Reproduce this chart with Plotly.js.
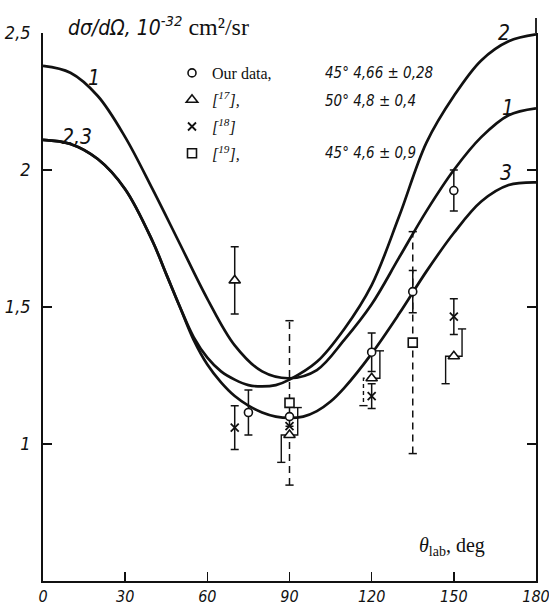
<!DOCTYPE html>
<html><head><meta charset="utf-8">
<script src="https://cdn.plot.ly/plotly-3.0.1.min.js"></script>
<style>html,body{margin:0;padding:0;background:#fff}</style>
</head><body><div id="chart" style="width:549px;height:605px"></div>
<script>
// ---------------- DATA ----------------
const curve1X = [0,10,20,30,40,50,60,70,80,90,100,110,120,130,140,150,160,170,180];
const curve1Y = [2.38,2.355,2.27,2.12,1.93,1.73,1.53,1.36,1.265,1.24,1.27,1.38,1.51,1.68,1.85,2.00,2.12,2.20,2.225];

const curve2X = [0,10,20,30,40,45,50,55,60,65,70,75,80,85,90,100,110,120,130,140,150,160,170,180];
const curve2Y = [2.11,2.095,2.04,1.93,1.74,1.62,1.50,1.39,1.315,1.265,1.235,1.215,1.21,1.215,1.235,1.30,1.42,1.58,1.83,2.10,2.27,2.40,2.47,2.495];

const curve3X = [0,10,20,30,40,45,50,55,60,65,70,75,80,85,90,95,100,105,110,120,130,140,150,160,170,180];
const curve3Y = [2.11,2.095,2.04,1.93,1.74,1.62,1.50,1.38,1.29,1.225,1.175,1.14,1.115,1.10,1.095,1.10,1.12,1.155,1.205,1.33,1.475,1.63,1.77,1.885,1.945,1.955];

const ourX   = [75, 90, 120, 135, 150];
const ourY   = [1.115, 1.10, 1.335, 1.556, 1.925];
const ourErr = [0.082, null, 0.07, 0.077, 0.075];

const ref17X   = [70, 90, 120, 150];
const ref17Y   = [1.597, 1.033, 1.24, 1.32];
const ref17Err = [0.123, 0.10, 0.10, 0.10];

const ref18X   = [70, 90, 120, 150];
const ref18Y   = [1.06, 1.065, 1.175, 1.465];
const ref18Err = [0.08, null, 0.045, 0.065];

const ref19X   = [90, 135];
const ref19Y   = [1.15, 1.37];
const ref19Err = [0.30, 0.405];

const xTickVals = [0,30,60,90,120,150,180];
const xTickText = ['0','30','60','90','120','150','180'];
const yTickVals = [1,1.5,2,2.5];
const yTickText = ['1','1,5','2','2,5'];

const legendNames = ['Our data,', '[17],', '[18]', '[19],'];
const legendNotes = ['45° 4,66 ± 0,28', '50° 4,8 ± 0,4', '', '45° 4,6 ± 0,9'];
const curveLabels = [
  {x: 18.6, y: 2.335, t: '1'}, {x: 12.5, y: 2.122, t: '2,3'},
  {x: 168.2, y: 2.5, t: '2'}, {x: 169.6, y: 2.228, t: '1'}, {x: 169.0, y: 1.99, t: '3'}
];

// ---------------- STYLE ----------------
const INK = '#111';
const SANS_IT = "'Liberation Sans Narrow', 'DejaVu Sans Condensed', 'Liberation Sans', sans-serif";
const SERIF = "'Liberation Serif', 'DejaVu Serif', serif";
const CAP = 1.5;        // cap half-width (deg)
const BR_OFF = 3;       // bracket offset (deg)
const bracketIdx = [1,2,3];
const dashedLowerIdx = [2];

function bracketPaths(xs, ys, errs, idx, dashedLower) {
  const solid = {x: [], y: []}, dashed = {x: [], y: []};
  idx.forEach(i => {
    const x = xs[i], y = ys[i], e = errs[i];
    solid.x.push(x, x + BR_OFF, x + BR_OFF, null, x + BR_OFF - CAP, x + BR_OFF + CAP, null);
    solid.y.push(y, y, y + e, null, y + e, y + e, null);
    const tgt = dashedLower.includes(i) ? dashed : solid;
    tgt.x.push(x, x - BR_OFF, x - BR_OFF, null);
    tgt.y.push(y, y, y - e, null);
    solid.x.push(x - BR_OFF - CAP, x - BR_OFF + CAP, null);
    solid.y.push(y - e, y - e, null);
  });
  return {solid, dashed};
}
function dashedErr(xs, ys, errs) {
  const stem = {x: [], y: []}, caps = {x: [], y: []};
  xs.forEach((x, i) => {
    const y = ys[i], e = errs[i];
    stem.x.push(x, x, null); stem.y.push(y - e, y + e, null);
    caps.x.push(x - CAP, x + CAP, null, x - CAP, x + CAP, null);
    caps.y.push(y + e, y + e, null, y - e, y - e, null);
  });
  return {stem, caps};
}

const curveLine = {color: INK, width: 2.7, shape: 'spline', smoothing: 1};
const errStyle = (arr) => ({type: 'data', array: arr, visible: true, color: INK, thickness: 1.5, width: 4});

const br = bracketPaths(ref17X, ref17Y, ref17Err, bracketIdx, dashedLowerIdx);
const r17straight = ref17Err.map((e, i) => bracketIdx.includes(i) ? null : e);
const sq = dashedErr(ref19X, ref19Y, ref19Err);

const traces = [
  {x: curve1X, y: curve1Y, mode: 'lines', line: curveLine, showlegend: false, cliponaxis: false},
  {x: curve2X, y: curve2Y, mode: 'lines', line: curveLine, showlegend: false, cliponaxis: false},
  {x: curve3X, y: curve3Y, mode: 'lines', line: curveLine, showlegend: false, cliponaxis: false},
  {x: br.solid.x, y: br.solid.y, mode: 'lines', line: {color: INK, width: 1.4}, showlegend: false},
  {x: br.dashed.x, y: br.dashed.y, mode: 'lines', line: {color: INK, width: 1.4, dash: '4px,3px'}, showlegend: false},
  {x: sq.stem.x, y: sq.stem.y, mode: 'lines', line: {color: INK, width: 1.5, dash: '7px,5px'}, showlegend: false},
  {x: sq.caps.x, y: sq.caps.y, mode: 'lines', line: {color: INK, width: 1.5}, showlegend: false},
  {x: ourX, y: ourY, mode: 'markers', name: legendNames[0], legendgroup: 'a',
   marker: {symbol: 'circle', size: 8, color: 'white', line: {color: INK, width: 1.6}},
   error_y: errStyle(ourErr)},
  {x: ref17X, y: ref17Y, mode: 'markers', name: '<i>[<sup>17</sup>],</i>', legendgroup: 'b',
   marker: {symbol: 'triangle-up', size: 10, color: 'white', line: {color: INK, width: 1.6}},
   error_y: errStyle(r17straight)},
  {x: ref18X, y: ref18Y, mode: 'markers', name: '<i>[<sup>18</sup>]</i>', legendgroup: 'c',
   marker: {symbol: 'x-thin', size: 8, color: INK, line: {color: INK, width: 1.8}},
   error_y: errStyle(ref18Err)},
  {x: ref19X, y: ref19Y, mode: 'markers', name: '<i>[<sup>19</sup>],</i>', legendgroup: 'd',
   marker: {symbol: 'square', size: 9, color: 'white', line: {color: INK, width: 1.6}}}
];

const PW = 493, PH = 548;
const notesY = [73, 101, 127, 153].map(p => 1 - (p - 33) / PH);
const annotations = [];
legendNotes.forEach((t, i) => { if (t) annotations.push({
  xref: 'paper', yref: 'paper', x: (323 - 43) / PW, y: notesY[i], xanchor: 'left', yanchor: 'middle',
  text: t, showarrow: false, font: {family: SANS_IT, size: 15, style: 'italic', color: INK}});});
annotations.push({xref: 'paper', yref: 'paper', x: (66 - 43) / PW, y: 1 + (33 - 26) / PH, xanchor: 'left', yanchor: 'middle',
  text: "<i>dσ/dΩ, 10</i><sup><i>-32</i></sup><span style=\"font-family:'Liberation Serif',serif;font-size:24px\"> cm²/sr</span>",
  showarrow: false, font: {family: SANS_IT, size: 21, color: INK}});
annotations.push({xref: 'paper', yref: 'paper', x: (417 - 43) / PW, y: 1 - (546 - 33) / PH, xanchor: 'left', yanchor: 'middle',
  text: '<i>θ</i><sub>lab</sub>, deg', showarrow: false, font: {family: SERIF, size: 20, color: INK}});
curveLabels.forEach(c => annotations.push({x: c.x, y: c.y, text: c.t, showarrow: false, xanchor: 'center', yanchor: 'middle',
  font: {family: SANS_IT, size: 21, style: 'italic', color: INK}}));

const layout = {
  width: 549, height: 605,
  margin: {l: 43, r: 13, t: 33, b: 24},
  paper_bgcolor: 'white', plot_bgcolor: 'white',
  showlegend: true,
  legend: {x: (172 - 43) / PW, y: 1 - (56 - 33) / PH, xanchor: 'left', yanchor: 'top',
    bgcolor: 'rgba(0,0,0,0)', font: {family: SERIF, size: 16, color: INK},
    traceorder: 'grouped', tracegroupgap: 3, itemwidth: 30},
  xaxis: {range: [0, 180], tickvals: xTickVals, ticktext: xTickText, ticks: 'inside', ticklen: 9, tickwidth: 1.5,
    tickcolor: INK, showline: true, linewidth: 2, linecolor: INK, showgrid: false, zeroline: false,
    tickfont: {family: SANS_IT, size: 16, style: 'italic', color: INK}, ticklabelstandoff: 0,
    ticklabeloverflow: 'allow'},
  yaxis: {range: [0.5, 2.5], tickvals: yTickVals, ticktext: yTickText, ticks: 'inside', ticklen: 9, tickwidth: 1.5,
    tickcolor: INK, showline: true, linewidth: 1.8, linecolor: INK, mirror: 'ticks', showgrid: false, zeroline: false,
    tickfont: {family: SANS_IT, size: 18, style: 'italic', color: INK}, ticklabelstandoff: 7},
  annotations: annotations,
  shapes: [{type: 'line', xref: 'paper', yref: 'paper', x0: 1, x1: 1, y0: 1, y1: 1 + 15 / PH, line: {color: INK, width: 1.8}}]
};

Plotly.newPlot('chart', traces, layout, {staticPlot: true, displayModeBar: false});
</script></body></html>
